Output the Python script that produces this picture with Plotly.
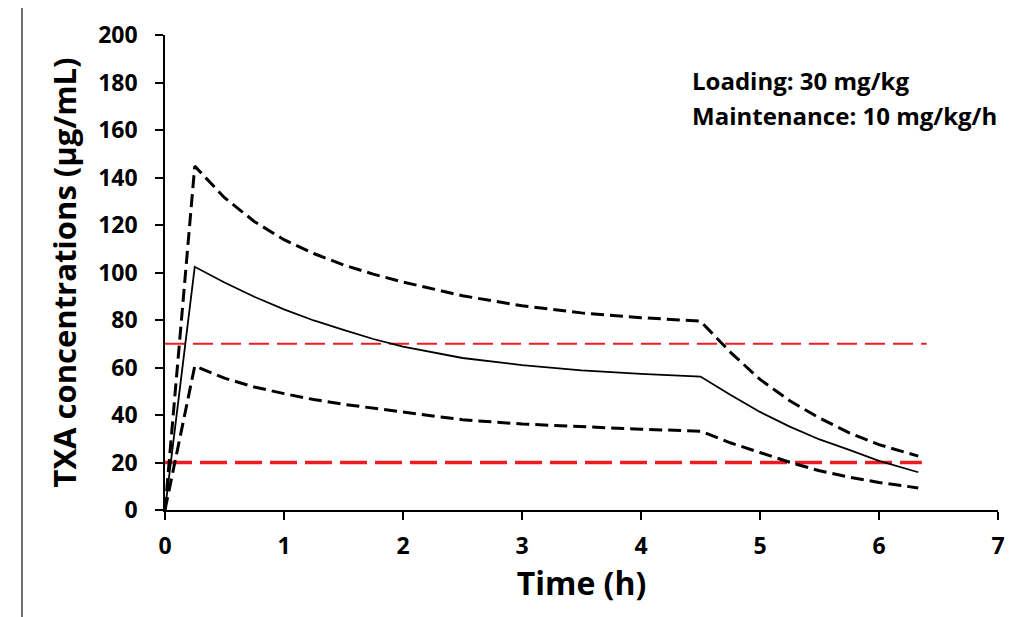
import plotly.graph_objects as go

# ---- data ----
time_h = [0, 0.25, 0.5, 0.75, 1.0, 1.25, 1.5, 1.75, 2.0, 2.5, 3.0, 3.5, 4.0, 4.5,
          4.75, 5.0, 5.25, 5.5, 5.75, 6.0, 6.33]
median = [0, 102.4, 95.8, 89.8, 84.5, 79.8, 75.8, 72.0, 68.8, 64.0, 61.0, 58.8, 57.3, 56.2,
          48.5, 41.3, 35.1, 29.7, 25.3, 20.7, 15.9]
upper = [0, 144.8, 131.5, 121.5, 113.8, 108.0, 103.2, 99.3, 96.0, 90.2, 86.0, 83.0, 81.0, 79.5,
         66.5, 55.0, 46.0, 38.7, 32.5, 27.5, 22.7]
lower = [0, 60.6, 55.5, 51.8, 49.0, 46.5, 44.5, 42.8, 41.2, 38.0, 36.2, 35.0, 34.0, 33.2,
         28.3, 24.2, 20.1, 16.5, 13.8, 11.6, 9.3]

upper_target = 70
upper_target_x = [0, 6.40]
lower_target = 20
lower_target_x = [0, 6.36]

x_ticks = [0, 1, 2, 3, 4, 5, 6, 7]
y_ticks = [0, 20, 40, 60, 80, 100, 120, 140, 160, 180, 200]

annot_lines = ["Loading: 30 mg/kg", "Maintenance: 10 mg/kg/h"]

FONT = "Open Sans"
RED = "#ed1c24"

# the page body has an 8px margin; figure sized to fit the 1020x617 window
W, H = 1012, 609
OFF = 8
L, R, T, B = 165 - OFF, W - (998 - OFF), 35 - OFF, H - (510 - OFF)
PW, PH = W - L - R, H - T - B

fig = go.Figure()

fig.add_trace(go.Scatter(x=upper_target_x, y=[upper_target] * 2, mode="lines",
                         line=dict(color=RED, width=2, dash="20px,8px"),
                         showlegend=False, hoverinfo="skip"))
fig.add_trace(go.Scatter(x=lower_target_x, y=[lower_target] * 2, mode="lines",
                         line=dict(color=RED, width=3.5, dash="27px,8px"),
                         showlegend=False, hoverinfo="skip"))
fig.add_trace(go.Scatter(x=time_h, y=upper, mode="lines",
                         line=dict(color="black", width=3, dash="13px,6px"),
                         showlegend=False))
fig.add_trace(go.Scatter(x=time_h, y=lower, mode="lines",
                         line=dict(color="black", width=3, dash="13px,6px"),
                         showlegend=False))
fig.add_trace(go.Scatter(x=time_h, y=median, mode="lines",
                         line=dict(color="black", width=1.8),
                         showlegend=False))

axis_common = dict(showgrid=False, zeroline=False, showline=True, linecolor="black",
                   linewidth=1.5, ticks="outside", ticklen=8, tickwidth=1.5,
                   tickcolor="black", automargin=False,
                   tickfont=dict(family=FONT, size=23, color="black", weight="bold"))

fig.update_xaxes(range=[0, 7], tickvals=x_ticks, ticktext=[str(v) for v in x_ticks],
                 ticklabelstandoff=7,
                 title=dict(text="Time (h)", standoff=5,
                            font=dict(family=FONT, size=32, color="black", weight="bold")),
                 **axis_common)
fig.update_yaxes(range=[0, 200], tickvals=y_ticks, ticktext=[str(v) for v in y_ticks],
                 ticklabelstandoff=13,
                 title=dict(text="TXA concentrations (μg/mL)", standoff=12,
                            font=dict(family=FONT, size=31, color="black", weight="bold")),
                 **axis_common)

for i, txt in enumerate(annot_lines):
    fig.add_annotation(x=(690 - 165) / PW, y=(510 - (81 + 35 * i)) / PH,
                       xref="paper", yref="paper", text=txt, showarrow=False,
                       xanchor="left", yanchor="middle",
                       font=dict(family=FONT, size=24, color="black", weight="bold"))

fig.add_shape(type="line", xref="paper", yref="paper",
              x0=(22 - 165) / PW, x1=(22 - 165) / PW,
              y0=(510 - 620) / PH, y1=(510 - 6) / PH,
              line=dict(color="#404040", width=1.5))

fig.update_layout(width=W, height=H, paper_bgcolor="white", plot_bgcolor="white",
                  margin=dict(l=L, r=R, t=T, b=B), showlegend=False)

fig.write_html("out.html")
